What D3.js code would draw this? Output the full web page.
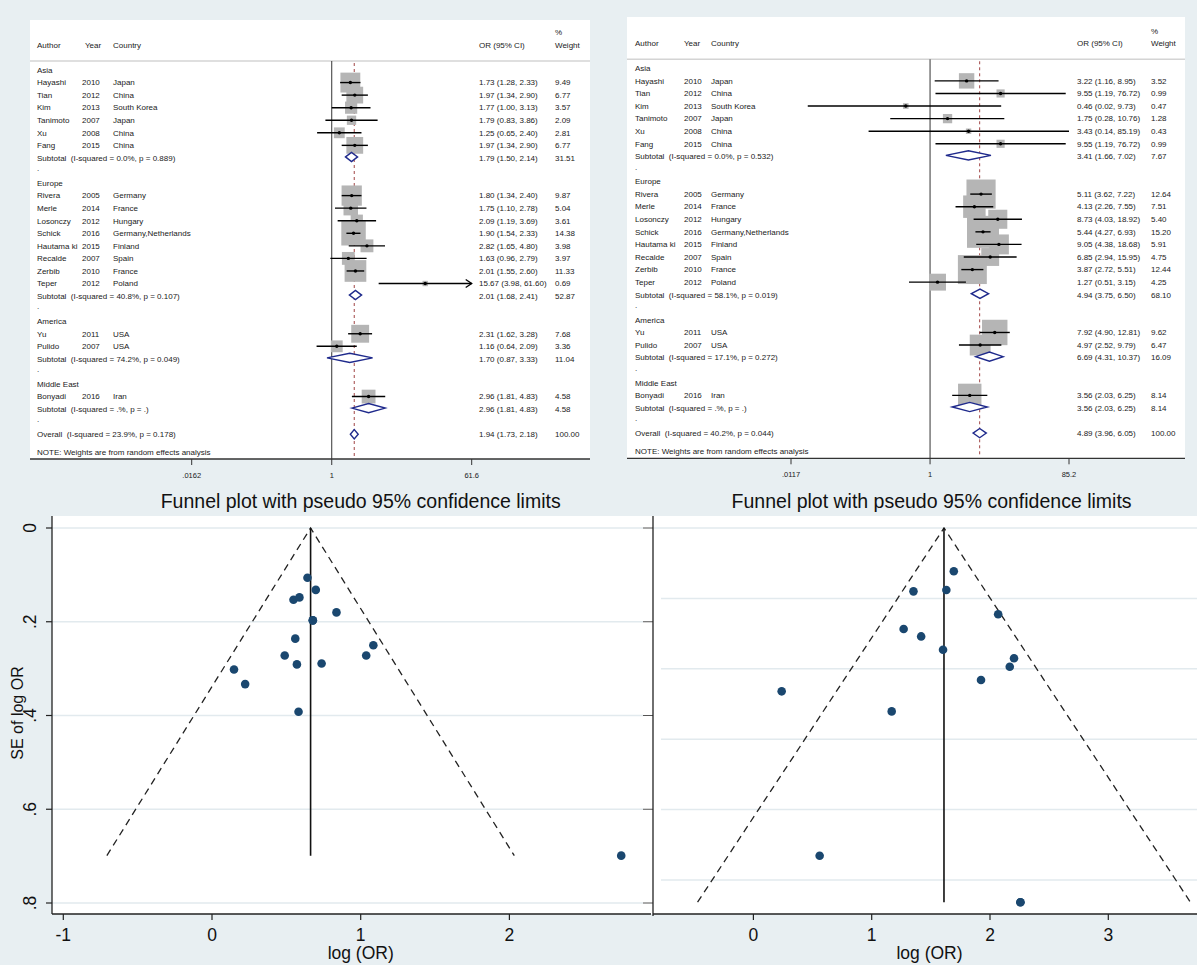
<!DOCTYPE html>
<html><head><meta charset="utf-8">
<script src="https://cdn.jsdelivr.net/npm/d3@7"></script>
<style>
body{margin:0;background:#e8eff2}
svg{display:block}
text{font-family:Arial,"Liberation Sans",Helvetica,sans-serif}
</style>
</head><body>
<svg id="c" width="1197" height="965"></svg>
<script>
// ---------------- DATA ----------------
const regions = ["Asia", "Europe", "America", "Middle East"];
const authors = ["Hayashi","Tian","Kim","Tanimoto","Xu","Fang","Rivera","Merle","Losonczy","Schick","Hautama ki","Recalde","Zerbib","Teper","Yu","Pulido","Bonyadi"];
const years = [2010,2012,2013,2007,2008,2015,2005,2014,2012,2016,2015,2007,2010,2012,2011,2007,2016];
const countries = ["Japan","China","South Korea","Japan","China","China","Germany","France","Hungary","Germany,Netherlands","Finland","Spain","France","Poland","USA","USA","Iran"];
const studyRegion = [0,0,0,0,0,0,1,1,1,1,1,1,1,1,2,2,3];

// Left forest plot
const orA = [1.73,1.97,1.77,1.79,1.25,1.97,1.80,1.75,2.09,1.90,2.82,1.63,2.01,15.67,2.31,1.16,2.96];
const loA = [1.28,1.34,1.00,0.83,0.65,1.34,1.34,1.10,1.19,1.54,1.65,0.96,1.55,3.98,1.62,0.64,1.81];
const hiA = [2.33,2.90,3.13,3.86,2.40,2.90,2.40,2.78,3.69,2.33,4.80,2.79,2.60,61.60,3.28,2.09,4.83];
const wA  = [9.49,6.77,3.57,2.09,2.81,6.77,9.87,5.04,3.61,14.38,3.98,3.97,11.33,0.69,7.68,3.36,4.58];
const subOrA = [1.79,2.01,1.70,2.96];
const subLoA = [1.50,1.68,0.87,1.81];
const subHiA = [2.14,2.41,3.33,4.83];
const subWA  = [31.51,52.87,11.04,4.58];
const subI2A = ["0.0%","40.8%","74.2%",".%"];
const subPA  = ["0.889","0.107","0.049","."];
const overallA = [1.94,1.73,2.18,100.00];
const overallStatsA = ["23.9%","0.178"];
const ticksA = [0.0162, 1, 61.6];
const tickLabelsA = [".0162","1","61.6"];

// Right forest plot
const orB = [3.22,9.55,0.46,1.75,3.43,9.55,5.11,4.13,8.73,5.44,9.05,6.85,3.87,1.27,7.92,4.97,3.56];
const loB = [1.16,1.19,0.02,0.28,0.14,1.19,3.62,2.26,4.03,4.27,4.38,2.94,2.72,0.51,4.90,2.52,2.03];
const hiB = [8.95,76.72,9.73,10.76,85.19,76.72,7.22,7.55,18.92,6.93,18.68,15.95,5.51,3.15,12.81,9.79,6.25];
const wB  = [3.52,0.99,0.47,1.28,0.43,0.99,12.64,7.51,5.40,15.20,5.91,4.75,12.44,4.25,9.62,6.47,8.14];
const subOrB = [3.41,4.94,6.69,3.56];
const subLoB = [1.66,3.75,4.31,2.03];
const subHiB = [7.02,6.50,10.37,6.25];
const subWB  = [7.67,68.10,16.09,8.14];
const subI2B = ["0.0%","58.1%","17.1%",".%"];
const subPB  = ["0.532","0.019","0.272","."];
const overallB = [4.89,3.96,6.05,100.00];
const overallStatsB = ["40.2%","0.044"];
const ticksB = [0.0117, 1, 85.2];
const tickLabelsB = [".0117","1","85.2"];

// Funnel plots (log OR, SE of log OR)
const funnelLogA = [0.548,0.678,0.571,0.582,0.223,0.678,0.588,0.560,0.737,0.642,1.037,0.489,0.698,2.752,0.837,0.148,1.085];
const funnelSeA  = [0.153,0.197,0.291,0.392,0.333,0.197,0.148,0.236,0.289,0.106,0.272,0.272,0.132,0.699,0.180,0.302,0.250];
const limitLogA = [-0.707, 0.663, 2.033];
const limitSeA  = [0.699, 0, 0.699];
const funnelLogB = [1.169,2.257,0.560,2.257,1.631,1.418,2.167,1.694,2.203,1.924,1.353,0.239,2.069,1.603,1.270];
const funnelSeB  = [0.521,1.063,0.931,1.063,0.176,0.308,0.394,0.123,0.370,0.432,0.180,0.464,0.245,0.346,0.287];
const limitLogB = [-0.472, 1.611, 3.694];
const limitSeB  = [1.063, 0, 1.063];
const funnelXTicksA = [-1,0,1,2];
const funnelYTicksA = [0,0.2,0.4,0.6,0.8];
const funnelXTicksB = [0,1,2,3];
const funnelYTicksB = [0.2,0.4,0.6,0.8,1.0];

// ---------------- DRAW ----------------
const svg = d3.select("#c");
svg.append("rect").attr("width",1197).attr("height",965).attr("fill","#e8eff2");
const f2 = d3.format(".2f");

function forest(cfg, d) {
  const g = svg.append("g");
  const x = d3.scaleLog().domain([d.ticks[0], d.ticks[2]]).range(cfg.range);
  const xmax = d.ticks[2];
  g.append("rect").attr("x",cfg.x0).attr("y",cfg.top).attr("width",cfg.x1-cfg.x0)
    .attr("height",cfg.axisY-cfg.top).attr("fill","#fff");
  const fs = 8;
  const txt = (xx, yy, s, anchor) => g.append("text").attr("x",xx).attr("y",yy).attr("dy","0.35em")
      .attr("font-size",fs).attr("fill","#1a1a1a").attr("text-anchor",anchor||"start")
      .style("white-space","pre").text(s);
  // header
  txt(cfg.xAuthor, cfg.headY, "Author");
  txt(cfg.xYearH, cfg.headY, "Year");
  txt(cfg.xCountry, cfg.headY, "Country");
  txt(cfg.xOR, cfg.headY, "OR (95% CI)");
  txt(cfg.xW, cfg.pctY, "%");
  txt(cfg.xW, cfg.headY, "Weight");
  g.append("line").attr("x1",cfg.x0).attr("x2",cfg.x1).attr("y1",cfg.lineY).attr("y2",cfg.lineY)
    .attr("stroke","#d4d4d4").attr("stroke-width",1.5);
  const rowY = d3.scaleLinear().domain([0,29]).range([cfg.row0, cfg.row0 + 29*cfg.step]);

  // reference lines
  g.append("line").attr("x1",x(1)).attr("x2",x(1)).attr("y1",cfg.lineY).attr("y2",cfg.axisY)
    .attr("stroke","#333").attr("stroke-width",1);
  g.append("line").attr("x1",x(d.overall[0])).attr("x2",x(d.overall[0]))
    .attr("y1",cfg.lineY+2).attr("y2",cfg.axisY-1)
    .attr("stroke","#a04545").attr("stroke-width",1).attr("stroke-dasharray","3,3");

  // build row list
  let r = 0;
  const studyRows = [], subRows = [];
  regions.forEach((reg, ri) => {
    txt(cfg.xAuthor, rowY(r), reg); r++;
    studyRegion.forEach((sr, i) => { if (sr === ri) { studyRows.push({i, y: rowY(r)}); r++; } });
    subRows.push({ri, y: rowY(r)}); r++;
    txt(cfg.xAuthor, rowY(r) - 2, "."); r++;
  });
  const overallY = rowY(r);

  // boxes
  studyRows.forEach(({i, y}) => {
    const s = cfg.boxK * Math.sqrt(d.w[i]);
    g.append("rect").attr("x", x(d.or[i]) - s/2).attr("y", y - s/2).attr("width", s).attr("height", s)
      .attr("fill","#b5b5b5");
  });
  studyRows.forEach(({i, y}) => {
    const hiCl = Math.min(d.hi[i], xmax);
    g.append("line").attr("x1",x(d.lo[i])).attr("x2",x(hiCl)).attr("y1",y).attr("y2",y)
      .attr("stroke","#000").attr("stroke-width",1.4);
    if (d.hi[i] >= xmax) {
      const ax = x(xmax);
      g.append("path").attr("d",`M${ax-6},${y-4}L${ax},${y}L${ax-6},${y+4}`)
        .attr("fill","none").attr("stroke","#000").attr("stroke-width",1.3);
    }
    g.append("circle").attr("cx",x(d.or[i])).attr("cy",y).attr("r",1.7).attr("fill","#000");
    txt(cfg.xAuthor, y, authors[i]);
    txt(cfg.xYear, y, String(years[i]));
    txt(cfg.xCountry, y, countries[i]);
    txt(cfg.xOR, y, `${f2(d.or[i])} (${f2(d.lo[i])}, ${f2(d.hi[i])})`);
    txt(cfg.xW, y, f2(d.w[i]));
  });
  const diamond = (est, lo, hi, y) => {
    g.append("path").attr("d",`M${x(lo)},${y}L${x(est)},${y-4.6}L${x(hi)},${y}L${x(est)},${y+4.6}Z`)
      .attr("fill","#fff").attr("stroke","#1f2a8c").attr("stroke-width",1.4);
  };
  subRows.forEach(({ri, y}) => {
    diamond(d.subOr[ri], d.subLo[ri], d.subHi[ri], y - 1);
    txt(cfg.xAuthor, y, `Subtotal  (I-squared = ${d.subI2[ri]}, p = ${d.subP[ri]})`);
    txt(cfg.xOR, y, `${f2(d.subOr[ri])} (${f2(d.subLo[ri])}, ${f2(d.subHi[ri])})`);
    txt(cfg.xW, y, f2(d.subW[ri]));
  });
  diamond(d.overall[0], d.overall[1], d.overall[2], overallY);
  txt(cfg.xAuthor, overallY, `Overall  (I-squared = ${d.overallStats[0]}, p = ${d.overallStats[1]})`);
  txt(cfg.xOR, overallY, `${f2(d.overall[0])} (${f2(d.overall[1])}, ${f2(d.overall[2])})`);
  txt(cfg.xW, overallY, f2(d.overall[3]));
  txt(cfg.xAuthor, overallY + 17.7, "NOTE: Weights are from random effects analysis");

  // axis
  g.append("line").attr("x1",cfg.x0).attr("x2",cfg.x1).attr("y1",cfg.axisY).attr("y2",cfg.axisY)
    .attr("stroke","#333").attr("stroke-width",1.3);
  d.ticks.forEach((t, k) => {
    g.append("line").attr("x1",x(t)).attr("x2",x(t)).attr("y1",cfg.axisY).attr("y2",cfg.axisY+6)
      .attr("stroke","#333").attr("stroke-width",1);
    g.append("text").attr("x",x(t)).attr("y",cfg.axisY+16).attr("dy","0.35em").attr("text-anchor","middle")
      .attr("font-size",7.5).attr("fill","#1a1a1a").text(d.tickLabels[k]);
  });
}

forest({x0:30,x1:590,top:20,axisY:459,lineY:61,headY:45,pctY:32,xAuthor:37,xYearH:85,xYear:82,
        xCountry:113,xOR:479,xW:555,range:[191.7,471.7],row0:70,step:12.56,boxK:6.45},
  {or:orA,lo:loA,hi:hiA,w:wA,subOr:subOrA,subLo:subLoA,subHi:subHiA,subW:subWA,subI2:subI2A,subP:subPA,
   overall:overallA,overallStats:overallStatsA,ticks:ticksA,tickLabels:tickLabelsA});
forest({x0:627,x1:1185,top:17,axisY:458.3,lineY:59.3,headY:43.3,pctY:30.7,xAuthor:635,xYearH:684,xYear:684,
        xCountry:711,xOR:1077,xW:1151,range:[791,1069],row0:68.3,step:12.58,boxK:8.2},
  {or:orB,lo:loB,hi:hiB,w:wB,subOr:subOrB,subLo:subLoB,subHi:subHiB,subW:subWB,subI2:subI2B,subP:subPB,
   overall:overallB,overallStats:overallStatsB,ticks:ticksB,tickLabels:tickLabelsB});

// ---------------- FUNNEL PLOTS ----------------
const fx = svg.append("g");
const xA = d3.scaleLinear().domain([-1,2]).range([63.3,509.4]);
const yA = d3.scaleLinear().domain([0,0.8]).range([528,903]);
const xB = d3.scaleLinear().domain([0,3]).range([753.4,1108.3]);
const yB = d3.scaleLinear().domain([0,1]).range([528,880]);
const plotTop = 516, plotBot = 914, axA = 52, axB = 653;

fx.append("rect").attr("x",axA).attr("y",plotTop).attr("width",1197-axA).attr("height",plotBot-plotTop).attr("fill","#fff");
// gridlines
funnelYTicksA.forEach(t => {
  fx.append("line").attr("x1",axA).attr("x2",643).attr("y1",yA(t)).attr("y2",yA(t))
    .attr("stroke","#e2eaee").attr("stroke-width",1.5);
  fx.append("line").attr("x1",643).attr("x2",axB).attr("y1",yA(t)).attr("y2",yA(t))
    .attr("stroke","#555").attr("stroke-width",1);
});
fx.append("line").attr("x1",axB).attr("x2",1197).attr("y1",yB(0)).attr("y2",yB(0))
  .attr("stroke","#e2eaee").attr("stroke-width",1.5);
funnelYTicksB.forEach(t => {
  fx.append("line").attr("x1",661).attr("x2",1197).attr("y1",yB(t)).attr("y2",yB(t))
    .attr("stroke","#e2eaee").attr("stroke-width",1.5);
});

function funnel(xs, ys, logs, ses, limL, limS) {
  // pseudo 95% limits
  const line = d3.line().x((v,i) => xs(v)).y((v,i) => ys(limS[i]));
  fx.append("path").attr("d", line(limL)).attr("fill","none").attr("stroke","#222")
    .attr("stroke-width",1.3).attr("stroke-dasharray","7,5");
  fx.append("line").attr("x1",xs(limL[1])).attr("x2",xs(limL[1])).attr("y1",ys(0)).attr("y2",ys(limS[0]))
    .attr("stroke","#111").attr("stroke-width",1.6);
  fx.selectAll(null).data(logs).enter().append("circle")
    .attr("cx",(v)=>xs(v)).attr("cy",(v,i)=>ys(ses[i])).attr("r",4.3).attr("fill","#1a476f");
}
funnel(xA, yA, funnelLogA, funnelSeA, limitLogA, limitSeA);
funnel(xB, yB, funnelLogB, funnelSeB, limitLogB, limitSeB);

// axes
fx.append("line").attr("x1",axA).attr("x2",axA).attr("y1",plotTop).attr("y2",plotBot).attr("stroke","#222").attr("stroke-width",1.3);
fx.append("line").attr("x1",axA).attr("x2",651).attr("y1",plotBot).attr("y2",plotBot).attr("stroke","#222").attr("stroke-width",1.3);
fx.append("line").attr("x1",axB).attr("x2",axB).attr("y1",plotTop).attr("y2",plotBot+2).attr("stroke","#222").attr("stroke-width",1.3);
fx.append("line").attr("x1",axB).attr("x2",1197).attr("y1",plotBot).attr("y2",plotBot).attr("stroke","#222").attr("stroke-width",1.3);

const tickFmt = t => t === 0 ? "0" : d3.format(".1f")(t).replace(/^0/, "");
funnelYTicksA.forEach(t => {
  fx.append("line").attr("x1",axA-6).attr("x2",axA).attr("y1",yA(t)).attr("y2",yA(t)).attr("stroke","#222").attr("stroke-width",1.2);
  fx.append("text").attr("transform",`translate(30,${yA(t)}) rotate(-90)`).attr("dy","0.35em")
    .attr("text-anchor","middle").attr("font-size",17.5).attr("fill","#111").text(tickFmt(t));
});
function xAxis(xs, ticks, cx) {
  ticks.forEach(t => {
    fx.append("line").attr("x1",xs(t)).attr("x2",xs(t)).attr("y1",plotBot).attr("y2",plotBot+6).attr("stroke","#222").attr("stroke-width",1.2);
    fx.append("text").attr("x",xs(t)).attr("y",935).attr("dy","0.35em").attr("text-anchor","middle")
      .attr("font-size",17.5).attr("fill","#111").text(String(t));
  });
  fx.append("text").attr("x",cx).attr("y",953).attr("dy","0.35em").attr("text-anchor","middle")
    .attr("font-size",17.5).attr("fill","#111").text("log (OR)");
}
xAxis(xA, funnelXTicksA, 360.7);
xAxis(xB, funnelXTicksB, 929.5);
fx.append("text").attr("transform","translate(17,713) rotate(-90)").attr("dy","0.35em")
  .attr("text-anchor","middle").attr("font-size",16).attr("fill","#111").text("SE of log OR");
[360.7, 931.6].forEach(cx => {
  fx.append("text").attr("x",cx).attr("y",507.5).attr("text-anchor","middle")
    .attr("font-size",19.5).attr("fill","#111").text("Funnel plot with pseudo 95% confidence limits");
});
</script>
</body></html>
